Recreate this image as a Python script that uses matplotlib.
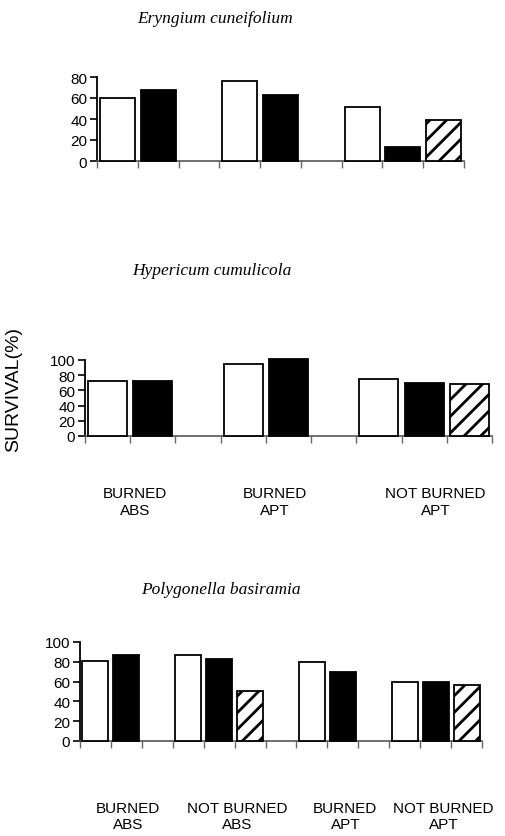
import numpy as np
import matplotlib
matplotlib.use("Agg")
import matplotlib.pyplot as plt

plt.rcParams['font.family'] = ['Liberation Sans', 'DejaVu Sans']
plt.rcParams['hatch.linewidth'] = 2.0

# ---- data ----
titles = ["Eryngium cuneifolium", "Hypericum cumulicola", "Polygonella basiramia"]

top_white = [60, 76, 51]
top_black = [68, 63, 13]
top_hatch = [np.nan, np.nan, 39]

mid_groups = ["BURNED\nABS", "BURNED\nAPT", "NOT BURNED\nAPT"]
mid_white = [73, 95, 75]
mid_black = [73, 101, 70]
mid_hatch = [np.nan, np.nan, 69]

bot_groups = ["BURNED\nABS", "NOT BURNED\nABS", "BURNED\nAPT", "NOT BURNED\nAPT"]
bot_white = [81, 87, 80, 60]
bot_black = [87, 83, 70, 60]
bot_hatch = [np.nan, 51, np.nan, 57]

y_top_ticks = [0, 20, 40, 60, 80]
y_ticks = [0, 20, 40, 60, 80, 100]

ylabel = "SURVIVAL(%)"

# ---- layout ----
W, H = 505, 837
fig = plt.figure(figsize=(W / 100, H / 100), dpi=100)

def px_axes(x0, x1, y0_px, ytop_px):
    return fig.add_axes([x0 / W, 1 - y0_px / H, (x1 - x0) / W, (y0_px - ytop_px) / H])

panels = [
    dict(ax=px_axes(97, 464, 162, 78), starts=[0, 3, 6], nslots=9,
         white=top_white, black=top_black, hatch=top_hatch, ymax=80, yt=y_top_ticks,
         labels=None, label_x=None, label_off=0, bw=0.86),
    dict(ax=px_axes(85, 492, 437, 361), starts=[0, 3, 6], nslots=9,
         white=mid_white, black=mid_black, hatch=mid_hatch, ymax=100, yt=y_ticks,
         labels=mid_groups, label_x=[1.1, 4.2, 7.75], label_off=-36, bw=0.86),
    dict(ax=px_axes(80, 482, 742, 643), starts=[0, 3, 7, 10], nslots=13,
         white=bot_white, black=bot_black, hatch=bot_hatch, ymax=100, yt=y_ticks,
         labels=bot_groups, label_x=[1.55, 5.08, 8.58, 11.75], label_off=-43, bw=0.84),
]

for p in panels:
    ax = p['ax']
    starts = np.array(p['starts'])
    bw = p['bw']
    ax.bar(starts + 0.5, p['white'], width=bw, color='white', edgecolor='black',
           linewidth=1.3, clip_on=False, zorder=3)
    ax.bar(starts + 1.5, p['black'], width=bw, color='black', edgecolor='black',
           linewidth=1.3, clip_on=False, zorder=3)
    ax.bar(starts + 2.5, p['hatch'], width=bw, color='white', edgecolor='black',
           hatch='//', linewidth=1.3, clip_on=False, zorder=3)
    ax.set_xlim(0, p['nslots'])
    ax.set_ylim(0, p['ymax'])
    ax.set_xticks(np.arange(p['nslots'] + 1))
    ax.set_xticklabels([])
    ax.set_yticks(p['yt'])
    ax.tick_params(axis='y', direction='out', length=5, width=1.2, labelsize=11, pad=2)
    ax.tick_params(axis='x', direction='out', length=5, width=1.0, color='#666666')
    ax.spines['top'].set_visible(False)
    ax.spines['right'].set_visible(False)
    ax.spines['left'].set_linewidth(1.3)
    ax.spines['bottom'].set_linewidth(1.2)
    ax.spines['bottom'].set_color('#555555')
    ax.patch.set_alpha(0)
    if p['labels']:
        for lx, lab in zip(p['label_x'], p['labels']):
            ax.annotate(lab, xy=(lx, 0), xycoords=('data', 'axes fraction'),
                        xytext=(0, p['label_off']), textcoords='offset points',
                        ha='center', va='top', fontsize=11, linespacing=1.25)

title_pos = [(215, 19), (212, 271), (221, 590)]
for t, (tx, ty) in zip(titles, title_pos):
    fig.text(tx / W, 1 - ty / H, t, ha='center', va='center', fontsize=12.5,
             style='italic', family=['Liberation Serif', 'DejaVu Serif'])

fig.text(14 / W, 1 - 390 / H, ylabel, rotation=90, ha='center', va='center', fontsize=14)

fig.savefig("out.png", dpi=100)
